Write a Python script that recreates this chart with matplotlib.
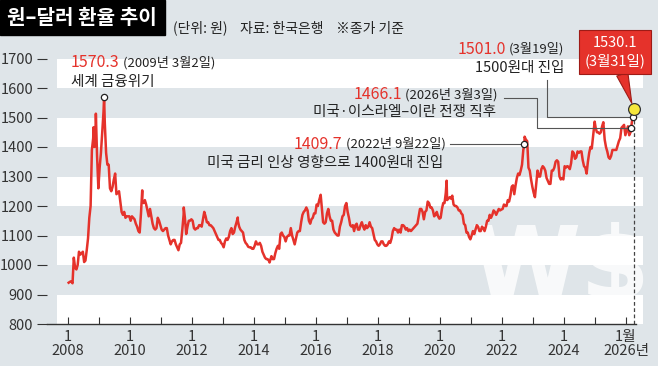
import numpy as np
import matplotlib.pyplot as plt
from matplotlib.patches import Rectangle
from datetime import date

# half-monthly closing rates (won per dollar)
r2008 = [940, 943, 945, 938, 1025, 990, 985, 1000, 1045, 1035, 1040, 1045, 1010, 1015, 1050, 1090, 1160, 1200, 1390, 1430, 1400, 1480, 1370, 1260]
r2009 = [1330, 1380, 1450, 1520, 1480, 1380, 1340, 1340, 1260, 1250, 1265, 1290, 1310, 1240, 1245, 1250, 1215, 1180, 1170, 1180, 1160, 1165, 1165, 1165]
r2010 = [1150, 1165, 1160, 1155, 1140, 1130, 1115, 1110, 1175, 1215, 1210, 1220, 1205, 1185, 1165, 1190, 1165, 1140, 1125, 1120, 1125, 1160, 1150, 1135]
r2011 = [1120, 1115, 1120, 1125, 1125, 1100, 1085, 1070, 1080, 1085, 1085, 1070, 1060, 1050, 1070, 1075, 1120, 1170, 1160, 1105, 1130, 1150, 1150, 1155]
r2012 = [1150, 1125, 1120, 1125, 1125, 1135, 1135, 1130, 1155, 1180, 1165, 1145, 1145, 1135, 1135, 1130, 1125, 1115, 1105, 1095, 1085, 1085, 1075, 1070]
r2013 = [1060, 1080, 1090, 1085, 1095, 1115, 1125, 1105, 1110, 1130, 1145, 1150, 1130, 1120, 1115, 1110, 1085, 1075, 1070, 1062, 1060, 1060, 1055, 1055]
r2014 = [1065, 1080, 1070, 1070, 1075, 1065, 1045, 1035, 1025, 1020, 1020, 1015, 1015, 1030, 1020, 1020, 1040, 1055, 1065, 1055, 1105, 1110, 1100, 1095]
r2015 = [1080, 1095, 1100, 1100, 1125, 1100, 1085, 1070, 1090, 1110, 1115, 1115, 1145, 1170, 1180, 1185, 1195, 1185, 1150, 1140, 1155, 1160, 1175, 1175]
r2016 = [1205, 1200, 1220, 1235, 1195, 1145, 1140, 1145, 1175, 1190, 1165, 1150, 1150, 1120, 1110, 1105, 1100, 1100, 1130, 1145, 1165, 1170, 1200, 1210]
r2017 = [1180, 1160, 1135, 1130, 1135, 1115, 1135, 1140, 1120, 1120, 1135, 1145, 1130, 1120, 1135, 1125, 1130, 1145, 1130, 1125, 1105, 1085, 1080, 1070]
r2018 = [1065, 1070, 1080, 1080, 1070, 1065, 1065, 1070, 1080, 1075, 1090, 1115, 1125, 1120, 1120, 1110, 1120, 1110, 1135, 1135, 1130, 1120, 1125, 1115]
r2019 = [1120, 1115, 1120, 1125, 1130, 1135, 1140, 1165, 1190, 1190, 1180, 1155, 1180, 1185, 1215, 1210, 1195, 1195, 1185, 1165, 1170, 1180, 1165, 1157]
r2020 = [1160, 1190, 1210, 1210, 1245, 1220, 1225, 1230, 1225, 1235, 1205, 1200, 1200, 1195, 1185, 1185, 1175, 1170, 1140, 1135, 1110, 1110, 1095, 1087]
r2021 = [1100, 1115, 1105, 1120, 1135, 1130, 1115, 1115, 1130, 1125, 1115, 1130, 1150, 1150, 1170, 1160, 1170, 1185, 1180, 1170, 1180, 1190, 1185, 1188]
r2022 = [1190, 1205, 1200, 1200, 1220, 1215, 1235, 1265, 1270, 1240, 1270, 1295, 1310, 1305, 1320, 1340, 1390, 1435, 1425, 1420, 1330, 1320, 1290, 1265]
r2023 = [1245, 1230, 1275, 1320, 1300, 1300, 1325, 1335, 1330, 1320, 1295, 1285, 1275, 1275, 1320, 1320, 1330, 1350, 1355, 1350, 1300, 1290, 1295, 1290]
r2024 = [1335, 1330, 1335, 1333, 1325, 1345, 1385, 1380, 1360, 1365, 1385, 1380, 1385, 1385, 1355, 1335, 1330, 1310, 1350, 1380, 1400, 1395, 1435, 1472]
r2025 = [1465, 1450, 1450, 1445, 1450, 1470, 1480, 1425, 1400, 1385, 1365, 1360, 1370, 1390, 1390, 1390, 1390, 1405, 1420, 1430, 1465, 1470, 1475, 1440]
r2026 = [1455, 1470, 1440, 1450]

# daily spikes visible on the line
spike_dates = ['2008-10-28', '2008-11-24', '2010-05-25', '2011-09-26', '2013-06-24',
               '2014-07-03', '2016-02-25', '2020-03-19', '2024-12-27', '2025-04-09']
spike_values = [1467, 1513, 1253, 1195, 1161, 1008.5, 1238, 1285.7, 1486, 1484]

# labelled points
key_dates = ['2009-03-02', '2022-09-22', '2026-03-03', '2026-03-19', '2026-03-31']
key_values = [1570.3, 1409.7, 1466.1, 1501.0, 1530.1]

y_ticks = [800, 900, 1000, 1100, 1200, 1300, 1400, 1500, 1600, 1700]
x_major = [2008, 2010, 2012, 2014, 2016, 2018, 2020, 2022, 2024, 2026]
x_minor = [2009, 2011, 2013, 2015, 2017, 2019, 2021, 2023, 2025]
x_labels = ['1\n2008', '1\n2010', '1\n2012', '1\n2014', '1\n2016',
            '1\n2018', '1\n2020', '1\n2022', '1\n2024', '1월\n2026년']

RED = '#e5322b'
BG = '#dfe5e9'
DARK = '#222222'
FONT = ['Liberation Sans Narrow', 'Noto Sans CJK KR', 'DejaVu Sans']


def to_year(s):
    d = date.fromisoformat(s)
    return d.year + (d.timetuple().tm_yday - 1) / 365


halves = [r2008, r2009, r2010, r2011, r2012, r2013, r2014, r2015, r2016,
          r2017, r2018, r2019, r2020, r2021, r2022, r2023, r2024, r2025, r2026]
gx, gy = [], []
for i, vals in enumerate(halves):
    for j, v in enumerate(vals):
        gx.append(2008 + i + (j // 2 + 0.25 + 0.5 * (j % 2)) / 12)
        gy.append(v)
kx = [to_year(d) for d in key_dates]
sx = [to_year(d) for d in spike_dates]
xs = np.array(gx + sx + kx)
ys = np.array(gy + spike_values + key_values)
order = np.argsort(xs)
xs, ys = xs[order], ys[order]

fig = plt.figure(figsize=(6.58, 3.66), dpi=100)
fig.patch.set_facecolor(BG)
ax = fig.add_axes([47 / 658, 42 / 366, 596 / 658, 265.5 / 366])
ax.set_facecolor('none')
ax.set_xlim(2008 - 21 / 31, 2008 + 575 / 31)
ax.set_ylim(800, 1700)
for s in ax.spines.values():
    s.set_visible(False)

# alternating bands
for lo in y_ticks[:-1:2]:
    ax.axhspan(lo, lo + 100, xmin=10 / 596, xmax=1, color='white', lw=0, zorder=0)

ax.text(0.862, 0.2, '₩$', transform=ax.transAxes, fontsize=72, fontweight='bold',
        color='white', alpha=0.8, ha='center', va='center',
        family=['Liberation Sans Narrow', 'DejaVu Sans'], zorder=1)

ax.plot(xs, ys, color=RED, lw=1.8, zorder=3, solid_joinstyle='round')
ax.plot([kx[-1], kx[-1]], [800, key_values[-1]], ls=(0, (3, 2)), color='#444', lw=0.9, zorder=2)
ax.axhline(800, xmin=0, xmax=(636 - 47) / 596, color='#333', lw=1, zorder=4, clip_on=False)

ax.set_yticks(y_ticks)
ax.set_yticklabels([str(v) for v in y_ticks], family=FONT, fontsize=10.5, color='#333')
ax.tick_params(axis='y', direction='out', length=7, width=0.8, color='#333', pad=3)
ax.set_xticks(x_major)
ax.set_xticks(x_minor, minor=True)
ax.set_xticklabels(x_labels, family=FONT, fontsize=10.5, color='#333', linespacing=1.0)
ax.tick_params(axis='x', which='both', direction='in', length=5, width=0.8, color='#333', pad=4)

# markers
ax.plot(kx[:4], key_values[:4], 'o', ms=4.5, mfc='white', mec=DARK, mew=0.9, zorder=6, clip_on=False)
ax.plot(kx[4], key_values[4], 'o', ms=8.5, mfc='#f6e73c', mec='#333', mew=0.9, zorder=6, clip_on=False)


def leader(pt, offsets):
    base = ax.transData.transform(pt)
    pts = base + np.array(offsets, dtype=float)
    p = ax.transAxes.inverted().transform(pts)
    ax.plot(p[:, 0], p[:, 1], transform=ax.transAxes, color='#555', lw=0.8, clip_on=False, zorder=4)


def note(s, pt, dx, dy, **kw):
    return ax.annotate(s, xy=pt, xytext=(dx, dy), textcoords='offset pixels',
                       annotation_clip=False, family=FONT, **kw)


def number_line(pt, dx, dy, num, rest, ha):
    if ha == 'left':
        t = note(num, pt, dx, dy, color=RED, fontsize=11.5, ha='left', va='center')
        ax.annotate(rest, xy=(1, 0.5), xycoords=t, xytext=(3, 0), textcoords='offset pixels',
                    fontsize=9.5, ha='left', va='center', color=DARK, family=FONT)
    else:
        t = note(rest, pt, dx, dy, fontsize=9.5, ha='right', va='center', color=DARK)
        ax.annotate(num, xy=(0, 0.5), xycoords=t, xytext=(-3, 0), textcoords='offset pixels',
                    color=RED, fontsize=11.5, ha='right', va='center', family=FONT)


p1 = (kx[0], key_values[0])
number_line(p1, -33, 34, '1570.3', '(2009년 3월2일)', 'left')
note('세계 금융위기', p1, -33, 15, fontsize=10.5, ha='left', va='center', color=DARK)

p2 = (kx[1], key_values[1])
leader(p2, [(0, 0), (-74, 0)])
number_line(p2, -79, 0, '1409.7', '(2022년 9월22일)', 'right')
note('미국 금리 인상 영향으로 1400원대 진입', p2, -81, -19, fontsize=10.5, ha='right', va='center', color=DARK)

p3 = (kx[2], key_values[2])
leader(p3, [(0, 0), (-94, 0), (-94, 30), (-127, 30)])
number_line(p3, -134, 33, '1466.1', '(2026년 3월3일)', 'right')
note('미국·이스라엘–이란 전쟁 직후', p3, -135, 16, fontsize=10.5, ha='right', va='center', color=DARK)

p4 = (kx[3], key_values[3])
leader(p4, [(0, 0), (-86, 0), (-86, 37)])
number_line(p4, -68, 68, '1501.0', '(3월19일)', 'right')
note('1500원대 진입', p4, -68, 49, fontsize=10.5, ha='right', va='center', color=DARK)

p5 = (kx[4], key_values[4])
ax.annotate('1530.1\n(3월31일)', xy=p5, xytext=(-18.5, 56.5), textcoords='offset pixels',
            ha='center', va='center', color='white', fontsize=10.5, linespacing=1.25, family=FONT,
            annotation_clip=False, zorder=7,
            bbox=dict(boxstyle='square,pad=0.4', fc=RED, ec='#9e1b16', lw=0.8),
            arrowprops=dict(arrowstyle='wedge,tail_width=0.8,shrink_factor=0.5',
                            fc=RED, ec='#9e1b16', lw=0.8, shrinkA=0, shrinkB=4))

# title
fig.add_artist(Rectangle((0, 1 - 35 / 366), 165 / 658, 35 / 366, transform=fig.transFigure,
                         color='black', zorder=0))
fig.text(82 / 658, 1 - 17.5 / 366, '원–달러 환율 추이', color='white', fontsize=14.5,
         fontweight='bold', ha='center', va='center', family=['Noto Sans CJK KR'])
fig.text(173 / 658, 1 - 27.5 / 366, '(단위: 원)    자료: 한국은행    ※종가 기준', fontsize=10,
         ha='left', va='center', color=DARK, family=FONT)

fig.savefig('out.png', dpi=100, facecolor=BG)
